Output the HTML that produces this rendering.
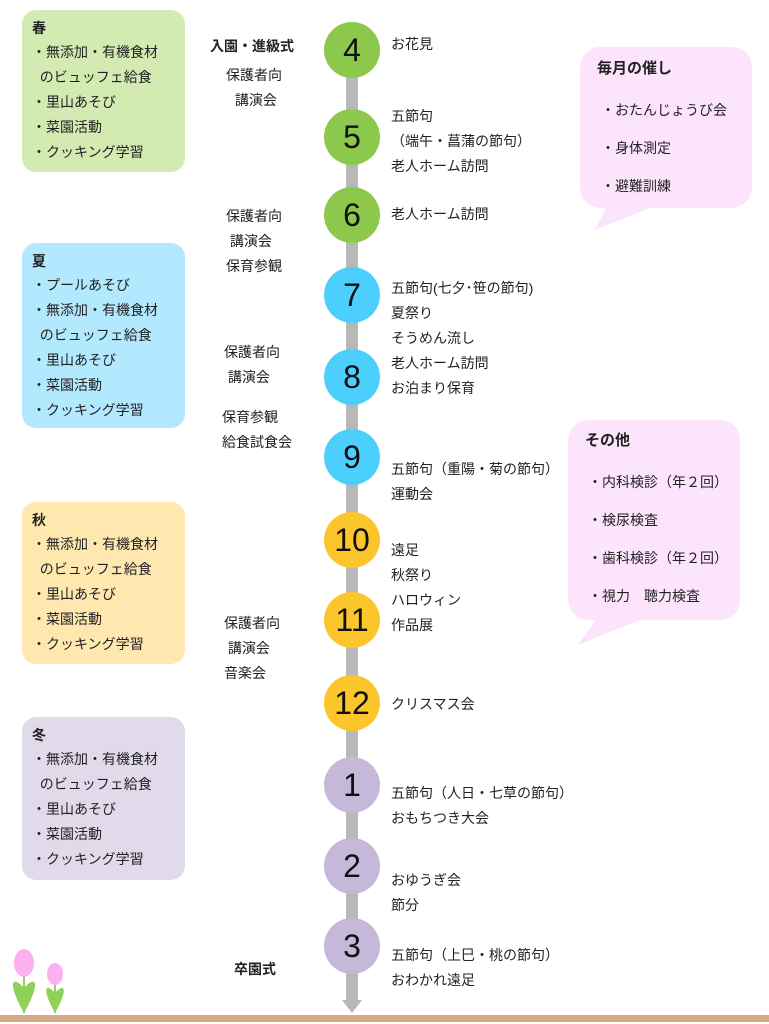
<!DOCTYPE html>
<html><head><meta charset="utf-8"><style>
body{margin:0;width:769px;height:1024px;background:#fff;position:relative;overflow:hidden;font-family:"Liberation Sans","Noto Sans CJK JP",sans-serif;color:#222}
.a{position:absolute;white-space:nowrap;font-size:14px;line-height:25px}
.box{position:absolute;left:22px;width:163px;border-radius:14px;font-size:14px;line-height:25px;padding:6px 0 0 10px;box-sizing:border-box}
.box b{font-weight:bold;display:block;line-height:24px}
.c{position:absolute;left:324px;width:56px;height:56px;border-radius:50%;text-align:center;line-height:56px;font-size:32px;color:#111}
</style></head><body>
<div class="box" style="top:10px;height:162px;background:#d3eab2"><b>春</b>・無添加・有機食材<br>&nbsp;&nbsp;のビュッフェ給食<br>・里山あそび<br>・菜園活動<br>・クッキング学習</div>
<div class="box" style="top:243px;height:185px;background:#b3e9fe"><b>夏</b>・プールあそび<br>・無添加・有機食材<br>&nbsp;&nbsp;のビュッフェ給食<br>・里山あそび<br>・菜園活動<br>・クッキング学習</div>
<div class="box" style="top:502px;height:162px;background:#ffe8b0"><b>秋</b>・無添加・有機食材<br>&nbsp;&nbsp;のビュッフェ給食<br>・里山あそび<br>・菜園活動<br>・クッキング学習</div>
<div class="box" style="top:717px;height:163px;background:#e1daeb"><b>冬</b>・無添加・有機食材<br>&nbsp;&nbsp;のビュッフェ給食<br>・里山あそび<br>・菜園活動<br>・クッキング学習</div>

<svg style="position:absolute;left:0;top:0" width="769" height="1024">
<rect x="346" y="50" width="12" height="950" fill="#b8b8b8"/>
<polygon points="342,1000 362,1000 352,1013" fill="#b8b8b8"/>
<rect x="0" y="1015" width="769" height="7" fill="#d6aa84"/>
<path d="M600,47 H732 A20,20 0 0 1 752,67 V188 A20,20 0 0 1 732,208 H650 L595,230 L606,208 H600 A20,20 0 0 1 580,188 V67 A20,20 0 0 1 600,47Z" fill="#fde4fd"/>
<path d="M588,420 H720 A20,20 0 0 1 740,440 V600 A20,20 0 0 1 720,620 H640 L578,645 L596,620 H588 A20,20 0 0 1 568,600 V440 A20,20 0 0 1 588,420Z" fill="#fde4fd"/>
<g fill="#8ed25a"><path d="M24,1013 C8,985 10,972 26,990 Z"/><path d="M24,1013 C40,985 38,972 22,990 Z"/><path d="M55,1013 C42,990 44,980 57,995 Z"/><path d="M55,1013 C68,990 66,980 53,995 Z"/></g>
<rect x="23" y="975" width="2" height="38" fill="#8ed25a"/><rect x="54" y="985" width="2" height="28" fill="#8ed25a"/>
<ellipse cx="24" cy="963" rx="10" ry="14" fill="#fbb0f0"/><ellipse cx="55" cy="974" rx="8" ry="11" fill="#fbb0f0"/>
</svg>

<div class="c" style="top:22px;background:#8cc84b">4</div>
<div class="c" style="top:109px;background:#8cc84b">5</div>
<div class="c" style="top:187px;background:#8cc84b">6</div>
<div class="c" style="top:267px;background:#4dcffd">7</div>
<div class="c" style="top:349px;background:#4dcffd">8</div>
<div class="c" style="top:429px;background:#4dcffd">9</div>
<div class="c" style="top:512px;background:#fcc52c">10</div>
<div class="c" style="top:592px;background:#fcc52c">11</div>
<div class="c" style="top:675px;background:#fcc52c">12</div>
<div class="c" style="top:757px;background:#c6b8d8">1</div>
<div class="c" style="top:838px;background:#c6b8d8">2</div>
<div class="c" style="top:918px;background:#c6b8d8">3</div>

<div class="a" style="left:210px;top:34px;font-weight:bold">入園・進級式</div>
<div class="a" style="left:226px;top:63px;text-align:center">保護者向<br>&nbsp;講演会</div>
<div class="a" style="left:226px;top:204px">保護者向<br>&nbsp;講演会<br>保育参観</div>
<div class="a" style="left:224px;top:340px">保護者向<br>&nbsp;講演会</div>
<div class="a" style="left:222px;top:405px">保育参観<br>給食試食会</div>
<div class="a" style="left:224px;top:611px">保護者向<br>&nbsp;講演会<br>音楽会</div>
<div class="a" style="left:234px;top:957px;font-weight:bold">卒園式</div>

<div class="a" style="left:391px;top:32px">お花見</div>
<div class="a" style="left:391px;top:104px">五節句<br>（端午・菖蒲の節句）<br>老人ホーム訪問</div>
<div class="a" style="left:391px;top:202px">老人ホーム訪問</div>
<div class="a" style="left:391px;top:276px">五節句(七夕･笹の節句)<br>夏祭り<br>そうめん流し<br>老人ホーム訪問<br>お泊まり保育</div>
<div class="a" style="left:391px;top:457px">五節句（重陽・菊の節句）<br>運動会</div>
<div class="a" style="left:391px;top:538px">遠足<br>秋祭り<br>ハロウィン<br>作品展</div>
<div class="a" style="left:391px;top:692px">クリスマス会</div>
<div class="a" style="left:391px;top:781px">五節句（人日・七草の節句）<br>おもちつき大会</div>
<div class="a" style="left:391px;top:868px">おゆうぎ会<br>節分</div>
<div class="a" style="left:391px;top:943px">五節句（上巳・桃の節句）<br>おわかれ遠足</div>

<div class="a" style="left:597px;top:56px;font-size:15px;font-weight:bold">毎月の催し</div>
<div class="a" style="left:601px;top:91px;line-height:38px">・おたんじょうび会<br>・身体測定<br>・避難訓練</div>
<div class="a" style="left:585px;top:428px;font-size:15px;font-weight:bold">その他</div>
<div class="a" style="left:588px;top:463px;line-height:38px">・内科検診（年２回）<br>・検尿検査<br>・歯科検診（年２回）<br>・視力　聴力検査</div>
</body></html>
